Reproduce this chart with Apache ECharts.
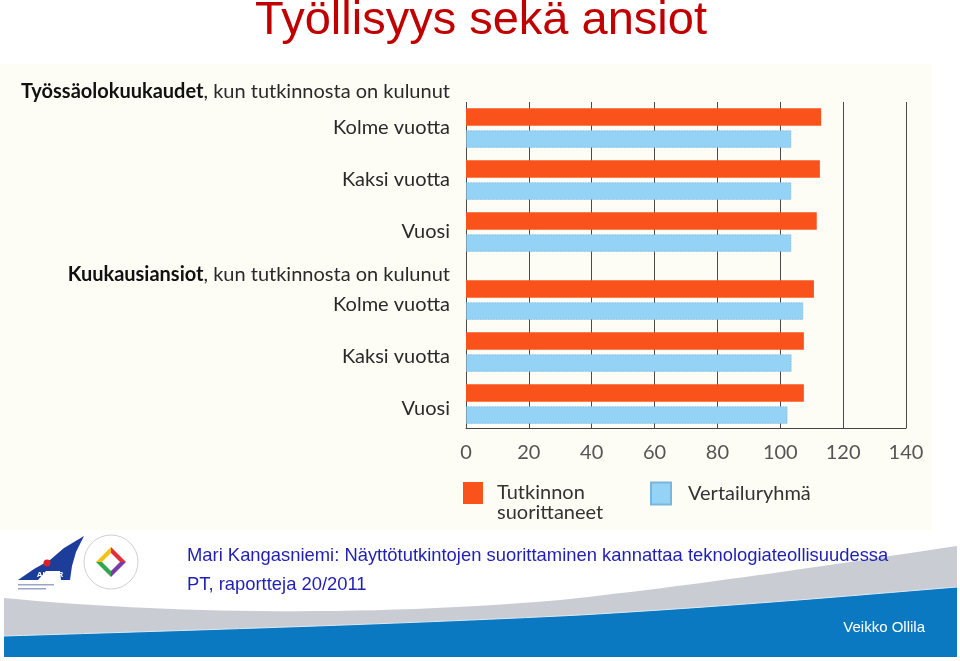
<!DOCTYPE html>
<html><head><meta charset="utf-8">
<script src="https://cdn.jsdelivr.net/npm/echarts@6/dist/echarts.min.js"></script>
<style>html,body{margin:0;padding:0;background:#fff}#c{width:960px;height:661px}</style>
</head><body><div id="c"></div>
<script>
// ---- data ----
const periods = ['Kolme vuotta', 'Kaksi vuotta', 'Vuosi'];
const sectionTitles = ['Työssäolokuukaudet', 'Kuukausiansiot'];
const sectionSuffix = ', kun tutkinnosta on kulunut';
const seriesNames = ['Tutkinnon suorittaneet', 'Vertailuryhmä'];
const employmentGraduates = [113, 112.6, 111.6];
const employmentComparison = [103.5, 103.5, 103.5];
const earningsGraduates = [110.7, 107.5, 107.5];
const earningsComparison = [107.3, 103.6, 102.3];
const xTicks = [0, 20, 40, 60, 80, 100, 120, 140];
const title = 'Työllisyys sekä ansiot';
const sourceLines = ['Mari Kangasniemi: Näyttötutkintojen suorittaminen kannattaa teknologiateollisuudessa', 'PT, raportteja 20/2011'];
const author = 'Veikko Ollila';

// ---- styles ----
const ORANGE = '#f9531b', BLUE = '#94d2f6';
const FONT = "Lato, 'Open Sans', sans-serif";
const FS = 20;
const xMin = xTicks[0], xMax = xTicks[xTicks.length - 1], xInt = xTicks[1] - xTicks[0];
const gridLeft = 466, gridWidth = 440;

// decorative curve helper (cubic bezier sampling) for the slide footer
function bez(p0, p1, p2, p3, n) {
  const pts = [];
  for (let i = 0; i <= n; i++) {
    const t = i / n, u = 1 - t;
    pts.push([
      u*u*u*p0[0] + 3*u*u*t*p1[0] + 3*u*t*t*p2[0] + t*t*t*p3[0],
      u*u*u*p0[1] + 3*u*u*t*p1[1] + 3*u*t*t*p2[1] + t*t*t*p3[1]
    ]);
  }
  return pts;
}
const grayTop = bez([4,598],[150,612],[350,618],[560,600],30).concat(bez([560,600],[700,585],[850,562],[957,546],30));
const blueTop = bez([4,636],[200,630],[400,624],[580,615],30).concat(bez([580,615],[750,605],[870,594],[957,587],30));

const chart = echarts.init(document.getElementById('c'), null, {renderer: 'canvas'});

const hiddenX = (i) => ({type: 'value', gridIndex: i, min: xMin, max: xMax, interval: xInt, show: false});
const catY = (i, extra) => ({
  type: 'category', gridIndex: i, data: periods, inverse: true,
  axisLine: {show: false}, axisTick: {show: false}, splitLine: {show: false},
  axisLabel: Object.assign({fontSize: FS, color: '#2a2a2a', fontFamily: FONT, margin: 16}, extra)
});
const barBase = {type: 'bar', barWidth: 17.5, barGap: '26%', silent: true};
const orangeStyle = {color: ORANGE};
const blueStyle = {color: BLUE, borderColor: '#7ab6dc', borderWidth: 0.8, borderType: 'dotted'};
const headingRich = {b: {fontSize: FS, fontWeight: 'bold', fontFamily: FONT, fill: '#111'}, r: {fontSize: FS, fontFamily: FONT, fill: '#2a2a2a'}};

const option = {
  backgroundColor: '#ffffff',
  animation: false,
  grid: [
    {left: gridLeft, width: gridWidth, top: 102, height: 326},
    {left: gridLeft, width: gridWidth, top: 102, height: 156},
    {left: gridLeft, width: gridWidth, top: 274, height: 156}
  ],
  xAxis: [
    {type: 'value', gridIndex: 0, min: xMin, max: xMax, interval: xInt,
     axisLine: {show: true, onZero: false, lineStyle: {color: '#444', width: 1}},
     axisTick: {show: false},
     splitLine: {show: true, lineStyle: {color: '#4a4a4a', width: 1}},
     axisLabel: {fontSize: FS, color: '#555', fontFamily: FONT, margin: 15}},
    hiddenX(1), hiddenX(2)
  ],
  yAxis: [
    {type: 'category', gridIndex: 0, data: [''], show: false},
    catY(1, {}),
    catY(2, {verticalAlign: 'top', lineHeight: 10})
  ],
  legend: [
    {left: 463, top: 463, padding: 0, itemWidth: 20, itemHeight: 22, icon: 'rect', selectedMode: false,
     data: [seriesNames[0]],
     formatter: () => '\nTutkinnon\nsuorittaneet',
     textStyle: {fontSize: FS, lineHeight: 20, color: '#333', fontFamily: FONT, padding: [0, 0, 0, 9]}},
    {left: 650, top: 481, padding: 0, itemWidth: 20, itemHeight: 22, icon: 'rect', selectedMode: false,
     data: [seriesNames[1]],
     textStyle: {fontSize: FS, lineHeight: 19, color: '#333', fontFamily: FONT, padding: [0, 0, 6, 12]}}
  ],
  series: [
    Object.assign({}, barBase, {name: seriesNames[0], xAxisIndex: 1, yAxisIndex: 1, data: employmentGraduates, itemStyle: orangeStyle}),
    Object.assign({}, barBase, {name: seriesNames[1], xAxisIndex: 1, yAxisIndex: 1, data: employmentComparison, itemStyle: blueStyle}),
    Object.assign({}, barBase, {name: seriesNames[0], xAxisIndex: 2, yAxisIndex: 2, data: earningsGraduates, itemStyle: orangeStyle}),
    Object.assign({}, barBase, {name: seriesNames[1], xAxisIndex: 2, yAxisIndex: 2, data: earningsComparison, itemStyle: blueStyle})
  ],
  graphic: [
    {type: 'rect', z: -10, shape: {x: 0, y: 64, width: 932, height: 466}, style: {fill: '#fdfdf6'}},
    {type: 'polygon', z: -5, shape: {points: grayTop.concat([[957,657],[4,657]])}, style: {fill: '#c9cdd3'}},
    {type: 'polygon', z: -4, shape: {points: blueTop.concat([[957,657],[4,657]])}, style: {fill: '#0b79c2'}},
    {type: 'polyline', z: -3, shape: {points: blueTop}, style: {stroke: '#dfe9f2', lineWidth: 1}},
    {type: 'text', x: 481, y: 21, style: {text: title, align: 'center', verticalAlign: 'middle', font: "47px 'Liberation Sans', Arial, sans-serif", fill: '#c00000'}},
    {type: 'text', x: 450, y: 92, style: {text: '{b|' + sectionTitles[0] + '}{r|' + sectionSuffix + '}', align: 'right', verticalAlign: 'middle', rich: headingRich}},
    {type: 'text', x: 450, y: 275, style: {text: '{b|' + sectionTitles[1] + '}{r|' + sectionSuffix + '}', align: 'right', verticalAlign: 'middle', rich: headingRich}},
    {type: 'text', x: 187, y: 556, style: {text: sourceLines[0], verticalAlign: 'middle', font: "18.4px 'Liberation Sans', Arial, sans-serif", fill: '#1f1fb4'}},
    {type: 'text', x: 187, y: 585, style: {text: sourceLines[1], verticalAlign: 'middle', font: "18.4px 'Liberation Sans', Arial, sans-serif", fill: '#1f1fb4'}},
    {type: 'text', x: 925, y: 628, style: {text: author, align: 'right', verticalAlign: 'middle', font: "15px 'Liberation Sans', Arial, sans-serif", fill: '#ffffff'}},
    // ALVAR logo (approximation)
    {type: 'polygon', shape: {points: [[18,580],[34,569],[50,560],[64,548],[84,536],[76,552],[72,566],[70,580],[61,580],[60,571],[46,571],[38,580]]}, style: {fill: '#1d3d9a'}},
    {type: 'circle', shape: {cx: 47, cy: 563, r: 3.5}, style: {fill: '#d8202a'}},
    {type: 'text', x: 50, y: 575, style: {text: 'ALVAR', align: 'center', verticalAlign: 'middle', font: "bold 8px 'Liberation Sans', Arial", fill: '#ffffff'}},
    {type: 'rect', shape: {x: 18, y: 584, width: 36, height: 1.5}, style: {fill: '#9aa6c4'}},
    {type: 'rect', shape: {x: 18, y: 588, width: 28, height: 1.5}, style: {fill: '#9aa6c4'}},
    // Opetushallitus logo (approximation)
    {type: 'circle', shape: {cx: 111, cy: 562, r: 27}, style: {fill: '#ffffff', stroke: '#d0d0d0', lineWidth: 1}},
    {type: 'polygon', shape: {points: [[111, 547], [126, 562], [120, 562], [111, 553]]}, style: {fill: '#e0303a'}},
    {type: 'polygon', shape: {points: [[126, 562], [111, 577], [111, 571], [120, 562]]}, style: {fill: '#7a3aa8'}},
    {type: 'polygon', shape: {points: [[111, 577], [96, 562], [102, 562], [111, 571]]}, style: {fill: '#2fa84a'}},
    {type: 'polygon', shape: {points: [[96, 562], [111, 547], [111, 553], [102, 562]]}, style: {fill: '#f2c21a'}}
  ]
};
chart.setOption(option);
</script>
</body></html>
